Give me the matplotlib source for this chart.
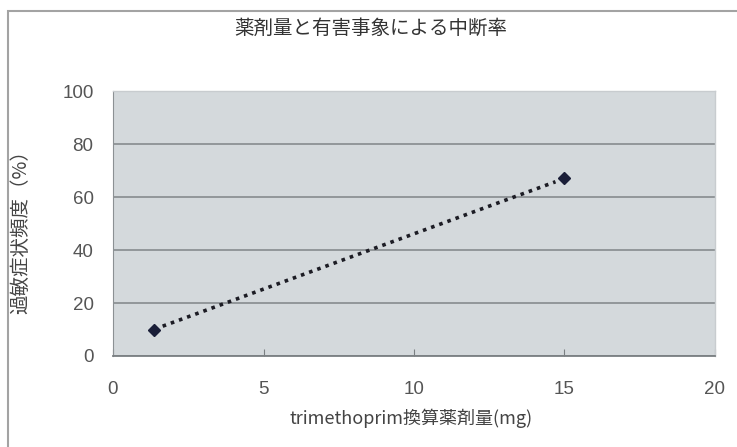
import numpy as np
import matplotlib
matplotlib.use("Agg")
import matplotlib.pyplot as plt
from matplotlib.patches import Rectangle

plt.rcParams['font.family'] = ['Liberation Sans', 'Noto Sans CJK JP', 'DejaVu Sans']

# データ
dose = [1.35, 15.0]
freq = [10, 67]
x_ticks = [0, 5, 10, 15, 20]
y_ticks = [0, 20, 40, 60, 80, 100]

title = "薬剤量と有害事象による中断率"
xlabel = "trimethoprim換算薬剤量(mg)"
ylabel = "過敏症状頻度（%）"

fig = plt.figure(figsize=(7.37, 4.47), dpi=100)
fig.patch.set_facecolor("white")

# 外枠
fig.patches.append(Rectangle((8/737, -0.2), 1.2, 1.2 - 11/447, transform=fig.transFigure,
                             fill=False, edgecolor="#a3a3a3", linewidth=1.5))

ax = fig.add_axes([113/737, 1 - 356/447, 602/737, 265/447])
ax.set_facecolor("#d4d9dc")

ax.set_xlim(0, 20)
ax.set_ylim(0, 100)
ax.set_xticks(x_ticks)
ax.set_yticks(y_ticks)
ax.yaxis.grid(True, color="#8c9194", linewidth=1.3)
ax.set_axisbelow(True)

for s in ["top", "right"]:
    ax.spines[s].set_color("#c8cccf")
    ax.spines[s].set_linewidth(1.0)
ax.spines["left"].set_color("#8c9194")
ax.spines["bottom"].set_color("#7a7f82")
ax.spines["bottom"].set_linewidth(1.3)

ax.tick_params(axis="x", direction="in", length=5, color="#7a7f82", pad=18,
               labelsize=13.5, labelcolor="#555555")
ax.tick_params(axis="y", length=0, pad=14, labelsize=13.5, labelcolor="#555555")

# 近似直線
coef = np.polyfit(dose, freq, 1)
xs = np.array([min(dose) + 0.3, max(dose) - 0.3])
ax.plot(xs, np.polyval(coef, xs), linestyle=(0, (1, 1.4)), color="#1c1c24",
        linewidth=2.6, dash_capstyle="butt")

ax.plot(dose, freq, linestyle="none", marker="D", markersize=6,
        color="#1a1e38", markeredgecolor="#1a1e38")

fig.text(371/737, 1 - 28/447, title, ha="center", va="center", fontsize=14,
         color="#333333", family=["Noto Sans CJK JP"])
fig.text(411/737, 1 - 418/447, xlabel, ha="center", va="center", fontsize=13,
         color="#444444", family=["Noto Sans CJK JP"])
fig.text(21/737, 1 - 227/447, ylabel, ha="center", va="center", rotation=90,
         fontsize=14, color="#444444", family=["Noto Sans CJK JP"])

fig.savefig("out.png", dpi=100)
